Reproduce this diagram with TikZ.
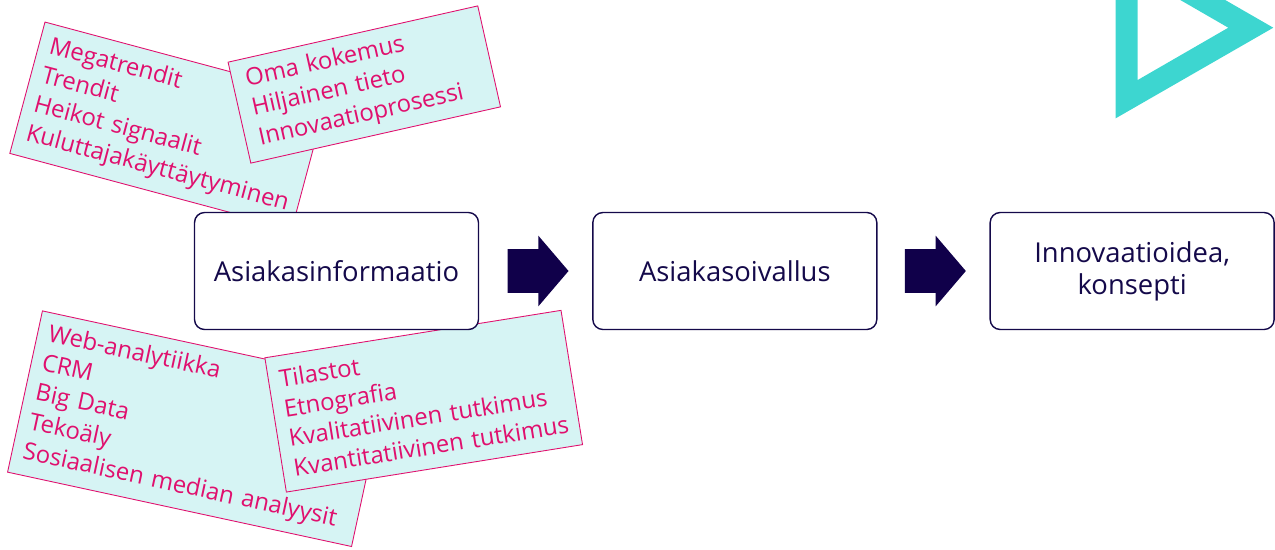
\documentclass[tikz,border=0pt]{standalone}
\usepackage{fontspec}
\setmainfont{Open Sans}
\usetikzlibrary{positioning,shapes.arrows}

\definecolor{navy}{HTML}{14094A}
\definecolor{arrowblue}{HTML}{10004A}
\definecolor{cardpink}{HTML}{E0106E}
\definecolor{cardcyan}{HTML}{D6F4F4}
\definecolor{logoteal}{HTML}{3DD6D0}

\tikzset{
  stage/.style={draw=navy, line width=0.8pt, fill=white, rounded corners=0.2cm,
    minimum width=5.68cm, minimum height=2.34cm, align=center, text=navy,
    font=\fontsize{15.6}{18.3}\selectfont},
  card/.style={draw=cardpink, line width=0.5pt, fill=cardcyan, text=cardpink,
    align=left, inner xsep=0.22cm, inner ysep=0pt,
    font=\fontsize{13.6}{17.1}\selectfont},
  flow/.style={single arrow, fill=arrowblue, inner xsep=0pt, inner ysep=0.43cm,
    single arrow tip angle=99, single arrow head extend=0.27cm, minimum height=1.22cm,
    anchor=tail}
}

\begin{document}
\begin{tikzpicture}[x=0.02cm, y=-0.02cm]
\useasboundingbox (0,0) rectangle (1275,549);

% sources of information
\node[card, rotate=-15, text width=5.40cm, minimum width=5.84cm, minimum height=2.72cm]
  (trends) at (168.4,125.5) {Megatrendit\\Trendit\\Heikot signaalit\\Kuluttajakäyttäytyminen};
\node[card, rotate=12.7, inner xsep=0.27cm, text width=4.58cm, minimum width=5.12cm, minimum height=2.07cm]
  (tacit) at (364.3,84.5) {Oma kokemus\\Hiljainen tieto\\Innovaatioprosessi};
\node[card, rotate=-12.2, text width=6.60cm, minimum width=7.04cm, minimum height=3.30cm]
  (data) at (197,428.7) {Web-analytiikka\\CRM\\Big Data\\Tekoäly\\Sosiaalisen~median~analyysit};
\node[card, rotate=9.1, text width=5.56cm, minimum width=6.0cm, minimum height=2.72cm]
  (research) at (423.7,401.2) {Tilastot\\Etnografia\\Kvalitatiivinen~tutkimus\\Kvantitatiivinen~tutkimus};

% process
\node[stage] (info) at (336.5,271) {Asiakasinformaatio};
\node[stage, right=2.26cm of info] (insight) {Asiakasoivallus};
\node[stage, right=2.24cm of insight] (idea) {Innovaatioidea,\\konsepti};

\node[flow] (arr1) at ([xshift=0.56cm]info.east) {};
\node[flow] (arr2) at ([xshift=0.54cm]insight.east) {};

% logo
\fill[logoteal, even odd rule] (1115.7,-63) -- (1273.3,27.7) -- (1115.7,118.3) -- cycle
  (1137.7,-24.6) -- (1228.3,27.7) -- (1137.7,80) -- cycle;

\end{tikzpicture}
\end{document}
